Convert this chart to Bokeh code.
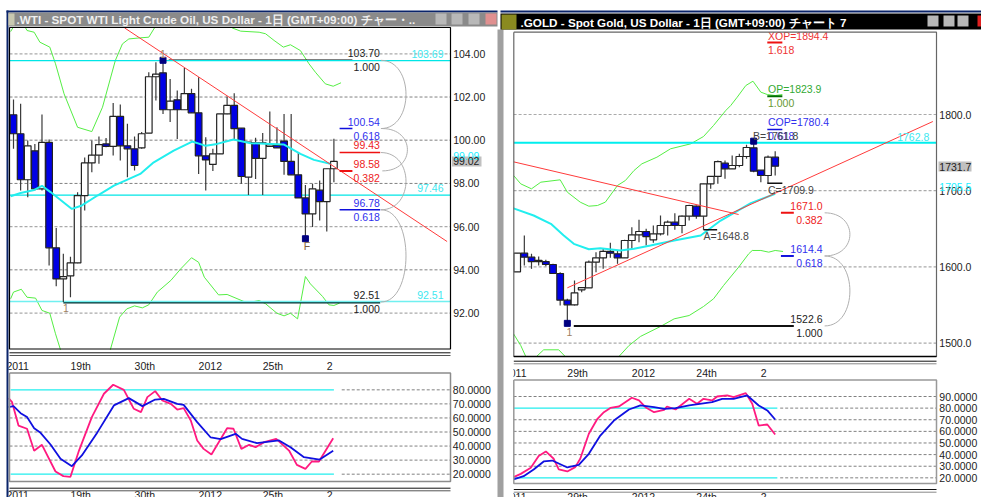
from bokeh.plotting import figure
from bokeh.embed import file_html
from bokeh.resources import INLINE
from bokeh.models import Range1d
from bokeh.core.properties import value

# ---------- data: WTI daily candles ----------
w_top=[101.18,100.30,99.74,99.51,99.90,99.90,95.02,93.69,94.32,97.44,98.95,99.31,99.80,99.83,101.10,101.10,99.74,99.60,100.30,102.94,103.06,103.12,101.81,101.87,102.16,102.16,101.27,99.28,99.37,101.22,101.61,101.61,100.56,99.91,99.88,99.88,99.79,99.76,99.96,99.02,98.40,97.33,97.75,97.69,98.68,99.02]
w_bot=[100.30,98.17,98.17,97.75,97.75,95.02,93.58,93.58,93.72,94.32,97.44,98.95,99.31,99.72,99.72,99.74,99.60,98.83,99.65,100.33,102.94,101.41,101.41,101.41,101.41,101.27,99.28,99.09,98.88,99.37,101.22,100.54,98.32,98.29,99.16,99.16,99.72,99.65,99.02,98.40,97.33,96.59,96.59,97.16,97.16,98.68]
w_hi=[101.89,101.69,99.99,99.83,101.19,100.03,95.94,94.74,94.60,97.59,99.2,99.99,100.17,100.10,101.72,101.65,100.76,100.17,100.38,103.15,103.61,103.70,102.84,102.30,103.34,102.38,102.92,100.14,99.6,101.22,102.02,102.18,100.56,99.91,100.11,100.34,101.33,100.60,101.22,101.22,99.45,97.93,97.98,98.14,98.68,100.07]
w_lo=[99.60,97.67,97.36,97.67,97.67,94.20,93.24,92.51,92.73,94.30,96.75,98.52,98.91,99.68,99.29,99.06,98.29,98.60,99.60,100.33,101.84,101.22,100.84,100.06,101.41,101.27,98.44,97.67,98.57,99.37,101.2,100.06,97.98,97.47,98.21,97.47,99.72,99.65,98.40,98.40,97.33,95.44,95.98,96.28,95.78,98.06]
w_dn=[1,1,0,1,0,1,1,0,0,0,0,0,0,1,0,1,1,1,0,0,0,1,0,1,0,1,1,1,0,0,0,1,1,0,1,0,0,1,1,1,1,1,0,1,0,0]
# WTI bands / moving average / trend
wu1_x=[-0.4,-0.1]; wu1_y=[105.03,105.2]
wu2_x=[1.7,1.9,2.9,3.7,5.1,5.9,7.1,9.0,11.0,12.5,14.3,15.3,16.2,17.8,19.0,19.8]
wu2_y=[105.2,105.08,105.0,104.54,104.31,103.54,102.15,100.6,100.4,101.53,103.69,104.46,104.69,104.74,104.77,105.2]
wu3_x=[30.7,31.9,34.5,35.4,36.6,37.9,38.9,40.3,41.5,42.4,43.8,44.9,46.0]
wu3_y=[105.2,105.05,105.0,104.93,104.62,104.31,104.42,104.15,103.54,103.15,102.61,102.5,102.66]
wl1_x=[-0.4,0.0,1.1,1.9,3.1,4.0,5.1,5.9,6.6]
wl1_y=[92.66,92.97,93.1,92.73,92.69,92.12,91.99,91.04,90.3]
wl2_x=[13.6,14.9,15.9,17.0,18.1,19.0,20.2,22.1,23.5,25.0,26.0,26.8,28.8,30.0,32.6,33.3,34.5,35.4,37.0,38.0,38.9,39.9,41.0,41.7,43.4,44.3,45.0,45.8]
wl2_y=[90.3,91.81,92.19,92.33,92.24,92.38,92.97,93.51,94.05,94.56,94.35,93.66,92.84,92.86,92.5,92.5,92.58,92.43,91.99,91.87,91.99,91.73,93.69,93.35,92.77,92.38,92.35,92.46]
wm_x=[-0.4,1.0,2.9,4.0,5.2,8.2,9.6,11.8,14.1,16.0,17.8,19.7,22.5,25.1,27.0,28.6,30.9,33.3,36.1,38.0,40.3,42.2,44.5]
wm_y=[97.41,97.56,97.7,97.89,97.6,96.82,96.98,97.44,97.9,98.18,98.44,98.98,99.52,99.94,99.74,99.83,100.03,99.86,99.83,99.8,99.37,99.09,98.91]
wt_x=[15.6,60.9]; wt_y=[105.2,95.31]
# WTI stochastic
wp_x=[-0.7,-0.2,0.7,1.9,2.9,4.0,5.9,7.0,8.0,9.2,11.0,12.7,14.0,15.5,16.9,17.9,18.8,19.9,20.9,22.1,23.0,23.9,24.9,25.8,26.7,27.8,30.0,30.9,32.0,33.1,34.0,35.2,36.9,38.7,39.8,41.0,41.9,42.9,44.9]
wp_y=[74.1,71.2,54.6,52.3,36.6,40.9,21.9,18.6,18.1,36.8,60.6,77.2,83.6,80.0,66.5,64.1,74.8,79.1,72.4,70.0,66.0,67.0,58.2,44.0,38.0,34.0,52.7,52.3,38.0,40.9,39.2,42.8,45.1,36.8,26.6,23.8,29.0,29.0,45.6]
wb_x=[-0.7,-0.0,1.0,1.9,2.9,3.8,5.2,6.6,8.2,9.6,11.8,14.1,16.2,18.1,19.9,21.1,23.0,23.9,25.8,27.7,29.1,31.2,32.1,34.2,37.3,38.9,40.8,43.0,44.9]
wb_y=[67.7,68.4,63.4,60.6,52.7,49.4,41.1,30.9,25.7,33.3,49.9,68.9,74.1,68.4,73.1,73.6,70.0,69.3,57.0,46.1,44.9,48.7,45.1,42.1,44.0,39.2,32.1,30.4,36.6]
# ---------- data: gold daily candles ----------
g_top=[1618.1,1618.1,1612.8,1608.5,1607.1,1603.2,1591.4,1556.4,1566.0,1573.0,1606.3,1612.0,1620.3,1620.3,1617.2,1634.7,1642.1,1646.5,1646.5,1643.4,1654.4,1658.7,1658.7,1666.6,1680.6,1679.7,1709.0,1718.7,1738.3,1736.2,1733.1,1744.9,1756.7,1756.3,1727.0,1744.0,1744.0]
g_bot=[1593.6,1612.8,1607.1,1607.1,1603.2,1591.4,1556.4,1550.3,1550.3,1570.0,1572.6,1606.3,1612.0,1618.1,1612.0,1612.0,1634.7,1642.1,1639.9,1635.6,1643.4,1654.4,1654.4,1654.4,1666.6,1666.6,1666.6,1709.0,1718.7,1728.7,1728.7,1733.1,1744.9,1725.7,1720.0,1720.0,1732.2]
g_hi=[1618.1,1641.3,1617.2,1613.7,1609.3,1604.1,1593.2,1558.2,1582.2,1573.5,1608.5,1619.4,1623.8,1631.6,1621.6,1635.6,1652.2,1661.8,1650.0,1654.4,1667.5,1660.9,1670.6,1667.5,1681.5,1680.6,1709.0,1718.7,1739.7,1739.7,1746.2,1748.4,1760.2,1765.0,1727.0,1746.2,1751.9]
g_lo=[1593.6,1601.9,1597.5,1601.9,1601.0,1591.0,1549.4,1522.7,1549.4,1566.9,1572.6,1593.2,1597.5,1612.0,1604.1,1612.0,1623.8,1632.5,1628.1,1631.6,1641.3,1641.3,1648.7,1644.3,1660.9,1663.1,1648.7,1702.5,1709.0,1715.6,1728.7,1730.9,1741.8,1724.3,1711.2,1709.9,1720.0]
g_dn=[0,1,1,0,1,1,1,1,0,0,0,0,0,1,1,0,0,0,1,0,0,0,1,0,0,1,0,0,0,1,0,0,0,1,1,0,1]
gu_x=[-0.5,0.5,2.0,3.3,6.0,7.0,8.8,10.0,11.2,12.3,14.0,15.1,16.3,17.4,19.5,21.4,24.2,26.0,27.4,29.1,29.8,30.7,31.9,32.9,34.0,34.9,36.0,37.0]
gu_y=[1720.0,1709.0,1702.5,1711.2,1714.3,1698.1,1685.0,1679.7,1680.6,1685.0,1706.9,1713.4,1726.5,1735.3,1744.0,1755.0,1761.5,1771.1,1785.6,1805.2,1811.8,1822.7,1838.0,1843.7,1829.3,1826.2,1824.9,1826.2]
gl1_x=[-0.5,0.5,1.2]; gl1_y=[1512.2,1496.9,1482.5]
gl2_x=[2.7,3.7,5.8,6.7]; gl2_y=[1482.5,1491.3,1491.3,1482.5]
gl3_x=[14.2,15.6,17.2,20.0,21.9,24.0,26.0,27.4,28.8,30.9,32.3,32.8,34.0,35.1,36.0,37.1]
gl3_y=[1482.5,1496.9,1508.8,1521.9,1531.9,1536.3,1548.1,1558.2,1575.7,1599.7,1617.2,1621.6,1621.6,1619.4,1621.6,1620.3]
gm_x=[-0.6,2.3,4.7,6.5,7.9,10.0,11.6,14.4,16.3,18.6,21.9,25.6,28.4,30.2,32.6,36.0]
gm_y=[1677.1,1667.5,1656.6,1641.3,1630.3,1623.3,1624.6,1621.6,1623.8,1628.1,1634.7,1641.3,1660.9,1670.6,1683.7,1695.9]
gt1_x=[-0.5,30.9]; gt1_y=[1737.9,1668.8]
gt2_x=[7.0,58.0]; gt2_y=[1572.6,1790.8]
gp_x=[-0.5,0.5,1.9,3.0,4.0,5.1,5.8,7.0,8.1,8.8,10.0,11.2,12.1,13.0,14.2,16.0,17.0,17.9,19.1,20.5,20.9,22.1,24.0,25.1,26.0,27.2,27.9,29.3,30.2,31.9,32.8,33.7,34.9,36.0]
gp_y=[20.6,23.4,28.6,38.7,42.7,36.4,27.2,25.5,29.2,36.4,57.9,70.8,76.5,80.2,81.4,88.9,86.6,80.8,76.5,78.5,81.4,78.8,88.0,83.7,88.0,86.6,90.0,90.9,89.4,92.9,83.7,65.0,65.9,57.3]
gb_x=[-0.5,0.9,2.3,3.7,4.9,7.0,8.6,10.0,11.6,13.5,15.6,17.2,19.1,20.5,22.1,24.0,27.2,28.6,30.2,32.1,33.7,34.9,36.0]
gb_y=[18.6,21.4,27.2,34.1,34.9,28.9,31.2,40.7,56.4,69.3,78.8,82.3,80.8,79.4,80.0,82.3,85.1,88.0,88.0,90.9,82.3,78.0,70.2]
# ---------- ticks and levels ----------
w_ticks=[104,102,100,98,96,94,92]
g_ticks=[1800,1700,1600,1500]
w_sticks=[80,70,60,50,40,30,20]
g_sticks=[90,80,70,60,50,40,30,20]
w_dates=[(-1,"2011"),(8,"19th"),(17,"30th"),(26,"2012"),(35,"25th"),(44,"2")]
g_dates=[(7,"29th"),(16,"2012"),(25,"24th"),(34,"2")]

W,H=981,497
# calibration of each panel: pixel of bar/value = origin + scale * (value - ref)
def xr(o,k): return Range1d((0-o)/k,(W-o)/k)
def yr(o,k,ref): return Range1d(ref-(H-o)/k,ref-(0-o)/k)
p=figure(width=W,height=H,x_range=Range1d(0,W),y_range=Range1d(H,0),toolbar_location=None,
         output_backend="svg",min_border=0,x_axis_type=None,y_axis_type=None,background_fill_color="white")
p.outline_line_color=None; p.grid.visible=False
p.extra_x_ranges={"wx":xr(13.0,7.12),"gx":xr(516.67,7.167)}
p.extra_y_ranges={"wy":yr(53.33,21.6,104),"ws":yr(389.33,1.4057,80),"gy":yr(114,0.76223,1800),"gs":yr(396,1.162,90)}
def L(x,y,xn,yn,c,w=1,dash="solid",alpha=1):
    p.line(x,y,x_range_name=xn,y_range_name=yn,line_color=c,line_width=w,line_dash=dash,line_alpha=alpha)
def T(x,y,t,xn,yn,c="#222222",a="left",off=0,size="10.5px",style="normal",font="Liberation Sans"):
    p.text(x=[x],y=[y],text=[t],x_range_name=xn,y_range_name=yn,text_color=c,text_align=a,text_baseline="middle",
           y_offset=off,text_font_size=size,text_font=value(font),text_font_style=style)
def Q(l,r,t,b,c):
    p.quad(left=[l],right=[r],top=[t],bottom=[b],fill_color=c,line_color=None)
def candles(top,bot,hi,lo,dn,xn,yn):
    x=list(range(len(top)))
    p.segment(x,hi,x,lo,x_range_name=xn,y_range_name=yn,line_color="#3a3a3a",line_width=1.2)
    p.vbar(x=x,top=top,bottom=bot,width=0.93,x_range_name=xn,y_range_name=yn,
           fill_color=["#0000e6" if d else "white" for d in dn],line_color="#222222",line_width=1.2)
LIGHT,DARK="#aaaaaa","#808080"
# ---- WTI main panel
wl,wr=-0.56,61.4
for i,t in enumerate(w_ticks):
    L([wl,wr],[t,t],"wx","wy",LIGHT if i%2==0 else DARK,1.3 if i%2==0 else 1,"3 2")
    T(61.75,t,f"{t:.2f}","wx","wy")
L(wu1_x,wu1_y,"wx","wy","#55ee44");L(wu2_x,wu2_y,"wx","wy","#55ee44");L(wu3_x,wu3_y,"wx","wy","#55ee44")
L(wl1_x,wl1_y,"wx","wy","#55ee44");L(wl2_x,wl2_y,"wx","wy","#55ee44")
L([21.8,47.6],[103.70,103.70],"wx","wy","black",1.5)
L([7,51.5],[92.48,92.48],"wx","wy","#003030",1.5)
for v in [103.69,97.46]:
    L([wl,wr],[v,v],"wx","wy","#00e6e6",1.3)
L([wl,wr],[92.53,92.53],"wx","wy","#70f0f0",1.5)
candles(w_top,w_bot,w_hi,w_lo,w_dn,"wx","wy")
L(wm_x,wm_y,"wx","wy","#22eeee",2)
L(wt_x,wt_y,"wx","wy","#ff3b3b",1)
p.scatter([21,41],[103.70,95.44],x_range_name="wx",y_range_name="wy",marker="square",size=6,fill_color="#000080",line_color="#000080")
for x0,a,b in [(51.6,103.70,100.54),(51.8,100.54,98.58),(51.6,99.43,96.78),(51.6,96.78,92.51)]:
    p.bezier([x0],[a],[x0],[b],[x0+4.7],[a],[x0+4.7],[b],x_range_name="wx",y_range_name="wy",line_color="#b0b0b0",line_width=1)
for a,b,v,c,w in [(45.8,47.6,100.54,"#1010dd",1.5),(45.8,51.5,99.43,"#ee1111",1.5),(45.8,47.6,98.58,"#ee1111",2),(45.8,51.5,96.78,"#1010dd",1.5)]:
    L([a,b],[v,v],"wx","wy",c,w)
for v,up,dn,c in [(103.70,"103.70","1.000","#222222"),(100.54,"100.54","0.618","#3030ee"),(98.58,"98.58","0.382","#ee2222"),(96.78,"96.78","0.618","#3030ee"),(92.51,"92.51","1.000","#222222")]:
    T(51.45,v,up,"wx","wy",c,"right",-7); T(51.45,v,dn,"wx","wy",c,"right",7)
T(51.45,99.43,"99.43","wx","wy","#ee2222","right",-7.5)
for v,t in [(103.69,"103.69"),(97.46,"97.46"),(92.51,"92.51")]:
    T(60.4,v,t,"wx","wy","#40e8f0","right",-7)
T(21,103.70,"1","wx","wy","#a08060","center",-6)
T(7.35,92.51,"1","wx","wy","#a08060","center",6)
T(41.2,95.44,"F","wx","wy","#806040","center",7)
Q(451.5,481,156,166,"#c0c0c0")
T(61.75,99.09,"99.09","wx","wy","#22eeff","left",-4)
T(61.75,99.02,"99.02","wx","wy")
# ---- WTI stochastic panel
for t in w_sticks:
    if t in (80,20):
        L([46.1,wr],[t,t],"wx","ws",DARK,1,"3 2"); L([-0.4,45],[t,t],"wx","ws","#22eeee",1.2)
    else:
        L([wl,wr],[t,t],"wx","ws",DARK,1,"3 2")
    T(61.7,t,f"{t:.4f}","wx","ws")
L(wp_x,wp_y,"wx","ws","#ff1a80",1.8)
L(wb_x,wb_y,"wx","ws","#1010e0",1.8)
# ---- gold main panel
gl,gr=-0.5,58.5
for i,t in enumerate(g_ticks):
    L([gl,gr],[t,t],"gx","gy",LIGHT,1.2,"3 2")
    T(58.9,t,f"{t:.1f}","gx","gy")
L(gu_x,gu_y,"gx","gy","#55ee44");L(gl1_x,gl1_y,"gx","gy","#55ee44");L(gl2_x,gl2_y,"gx","gy","#55ee44");L(gl3_x,gl3_y,"gx","gy","#55ee44")
L([gl,gr],[1762.8,1762.8],"gx","gy","#00eeee",2)
candles(g_top,g_bot,g_hi,g_lo,g_dn,"gx","gy")
L(gm_x,gm_y,"gx","gy","#22eeee",2)
L(gt1_x,gt1_y,"gx","gy","#ff3b3b",1);L(gt2_x,gt2_y,"gx","gy","#ff3b3b",1)
p.scatter([7,33],[1526,1765],x_range_name="gx",y_range_name="gy",marker="square",size=6,fill_color="#000080",line_color="#000080")
for a,b,v,c,w in [(7.9,38.6,1522.6,"#111111",2),(36.8,38.6,1614.4,"#1010dd",2),(36.8,38.6,1671.0,"#ee1111",2),(34.9,37,1780.4,"#1010dd",1.5),(34.9,37,1823.9,"#007000",2),(34.9,37,1894.4,"#ee1111",2),(26,27.9,1648.8,"#111111",1.5),(34.9,37,1709.9,"#111111",1.5)]:
    L([a,b],[v,v],"gx","gy",c,w)
for x0,a,b in [(42.9,1671.0,1614.4),(42.9,1614.4,1522.6)]:
    p.bezier([x0],[a],[x0],[b],[x0+4.7],[a],[x0+4.7],[b],x_range_name="gx",y_range_name="gy",line_color="#b0b0b0",line_width=1)
for v,up,dn,c in [(1671.0,"1671.0","0.382","#ee2222"),(1614.4,"1614.4","0.618","#3030ee"),(1522.6,"1522.6","1.000","#222222")]:
    T(42.6,v,up,"gx","gy",c,"right",-7); T(42.6,v,dn,"gx","gy",c,"right",7)
for v,up,dn,c,c2 in [(1894.4,"XOP=1894.4","1.618","#ee3333","#ee3333"),(1823.9,"OP=1823.9","1.000","#33aa33","#669933"),(1780.4,"COP=1780.4","0.618","#3030ee","#3030ee")]:
    T(35,v,up,"gx","gy",c,"left",-7); T(35,v,dn,"gx","gy",c2,"left",7)
T(32.9,1761.8,"B=1761.8","gx","gy","#444444","left",-7.5)
T(35,1709.9,"C=1709.9","gx","gy","#444444","left",6.5)
T(26,1648.8,"A=1648.8","gx","gy","#444444","left",6)
T(7.3,1522.6,"1","gx","gy","#a08060","center",6)
T(57.5,1762.8,"1762.8","gx","gy","#40e8f0","right",-6)
T(58.9,1705.5,"1705.5","gx","gy","#22eeff")
Q(938,971,161,171,"#c0c0c0")
T(58.9,1731.7,"1731.7","gx","gy")
# ---- gold stochastic panel
for t in g_sticks:
    if t in (80,20):
        L([36.7,gr],[t,t],"gx","gs",DARK,1,"3 2"); L([-0.5,36.3],[t,t],"gx","gs","#22eeee",1.2)
    else:
        L([gl,gr],[t,t],"gx","gs",DARK,1,"3 2")
    T(58.9,t,f"{t:.4f}","gx","gs")
L(gp_x,gp_y,"gx","gs","#ff1a80",1.8)
L(gb_x,gb_y,"gx","gs","#1010e0",1.8)
# ---- date rows
for b,t in w_dates:
    T(b,0,t,"wx","default",off=365); T(b,0,t,"wx","default",off=494.5)
for b,t in g_dates:
    T(b,0,t,"gx","default",off=372.7); T(b,0,t,"gx","default",off=496.7)
T(1.3,0,"2011","gx","default",a="right",off=372.7); T(1.3,0,"2011","gx","default",a="right",off=496.7)
# ---- window chrome (pixel frame)
Q(497,513,29,497,"white")
Q(497,503,29,497,"#a0a0a0")
Q(0,8,10,497,"white")
Q(6,8,10,497,"#0a246a")
Q(6,497,10,12,"#0a246a"); Q(500,981,10,12,"#0a246a")
Q(8,497,12,26,"#8a8a8a"); Q(8,14,13,25,"#c8c8b0")
Q(500,981,13,29,"#000000"); Q(501,516,14,29,"#8a8a20")
T(16,18.5,".WTI - SPOT WTI Light Crude Oil, US Dollar - 1日 (GMT+09:00)  チャー・..","default","default","#f0f0f0",size="11.7px",style="bold")
T(520,22,".GOLD - Spot Gold, US Dollar - 1日 (GMT+09:00)  チャート 7","default","default","#ffffff",size="11.7px",style="bold")
for x0 in [435,451,468]+[927,943,957]:
    top=13 if x0<500 else 15
    Q(x0,x0+11,top,top+11,"#b8b8b8")
Q(485,496,13,24,"#e09090"); Q(977,981,15,26,"#e02020")
# frames
for l,r,t,b,c,w in [(9,450,27,348.5,"#000000",1.2),(9,450,372.5,481,"#8c8c8c",1.5),(513.3,936,31.7,356,"#666666",1.2),(513.3,936,379.5,483,"#999999",1.5)]:
    L([l,r,r,l,l],[t,t,b,b,t],"default","default",c,w)
L([513.3,936],[356,356],"default","default","#000000",1.5)
for l,r,a,b,ca,cb in [(9,450,352.3,355,"#111111","#555555"),(9,450,487.7,490.3,"#111111","#555555"),(513.3,936,360.7,363.3,"#111111","#888888"),(513.3,936,489,491.7,"#111111","#888888")]:
    L([l,r],[a,a],"default","default",ca,1); L([l,r],[b,b],"default","default",cb,1)
open("out.html","w").write(file_html(p,INLINE))
